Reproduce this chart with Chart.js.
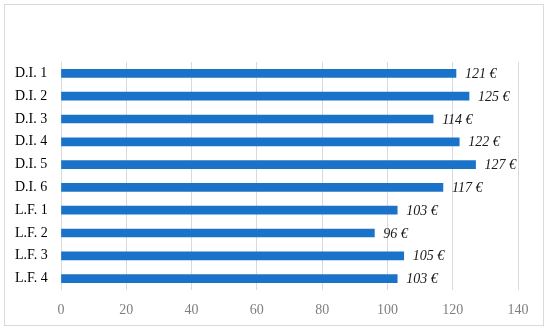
<!DOCTYPE html>
<html lang="en">
<head>
  <meta charset="UTF-8">
  <title>Bar chart</title>
  <script src="https://cdn.jsdelivr.net/npm/chart.js"></script>
  <style>
    body {
      margin: 0;
      padding: 0;
      background: #fff;
    }
    #wrap {
      width: 550px;
      height: 332px;
    }
  </style>
</head>
<body>
  <div id="wrap">
    <canvas id="chart" width="550" height="332"></canvas>
  </div>

  <script>
    const categories = ['D.I. 1', 'D.I. 2', 'D.I. 3', 'D.I. 4', 'D.I. 5', 'D.I. 6', 'L.F. 1', 'L.F. 2', 'L.F. 3', 'L.F. 4'];
    const values = [121, 125, 114, 122, 127, 117, 103, 96, 105, 103];
    const xTicks = [0, 20, 40, 60, 80, 100, 120, 140];

    const serif = '"Liberation Serif", "DejaVu Serif", serif';

    // outer frame around the chart
    const framePlugin = {
      id: 'frame',
      beforeDraw(chart) {
        const ctx = chart.ctx;
        ctx.save();
        ctx.fillStyle = '#fff';
        ctx.fillRect(0, 0, chart.width, chart.height);
        ctx.strokeStyle = '#d9d9d9';
        ctx.lineWidth = 1;
        ctx.strokeRect(4.5, 4.5, 539, 321);
        ctx.restore();
      }
    };

    // value labels at the end of each bar
    const valueLabels = {
      id: 'valueLabels',
      afterDatasetsDraw(chart) {
        const ctx = chart.ctx;
        const meta = chart.getDatasetMeta(0);
        ctx.save();
        ctx.font = 'italic 14px ' + serif;
        ctx.fillStyle = '#1a1a1a';
        ctx.textAlign = 'left';
        ctx.textBaseline = 'middle';
        meta.data.forEach((bar, i) => {
          ctx.fillText(values[i] + ' €', bar.x + 9, bar.y + 1);
        });
        ctx.restore();
      }
    };

    new Chart(document.getElementById('chart'), {
      type: 'bar',
      data: {
        labels: categories,
        datasets: [{
          data: values,
          backgroundColor: '#1a73c9',
          barThickness: 8
        }]
      },
      options: {
        indexAxis: 'y',
        responsive: false,
        animation: false,
        layout: {
          padding: { left: 15, right: 32, top: 62, bottom: 0 }
        },
        plugins: {
          legend: { display: false },
          tooltip: { enabled: false }
        },
        scales: {
          x: {
            min: 0,
            max: 140,
            afterBuildTicks(scale) {
              scale.ticks = xTicks.map(v => ({ value: v }));
            },
            afterFit(scale) {
              scale.height = 42;
            },
            grid: { color: '#d9d9d9', drawTicks: false },
            border: { display: false },
            ticks: {
              padding: 12,
              color: '#7f7f7f',
              font: { family: serif, size: 14 }
            }
          },
          y: {
            afterFit(scale) {
              scale.width = 46;
            },
            grid: { display: false },
            border: { display: false },
            ticks: {
              crossAlign: 'far',
              color: '#000',
              font: { family: serif, size: 14 }
            }
          }
        }
      },
      plugins: [framePlugin, valueLabels]
    });
  </script>
</body>
</html>
